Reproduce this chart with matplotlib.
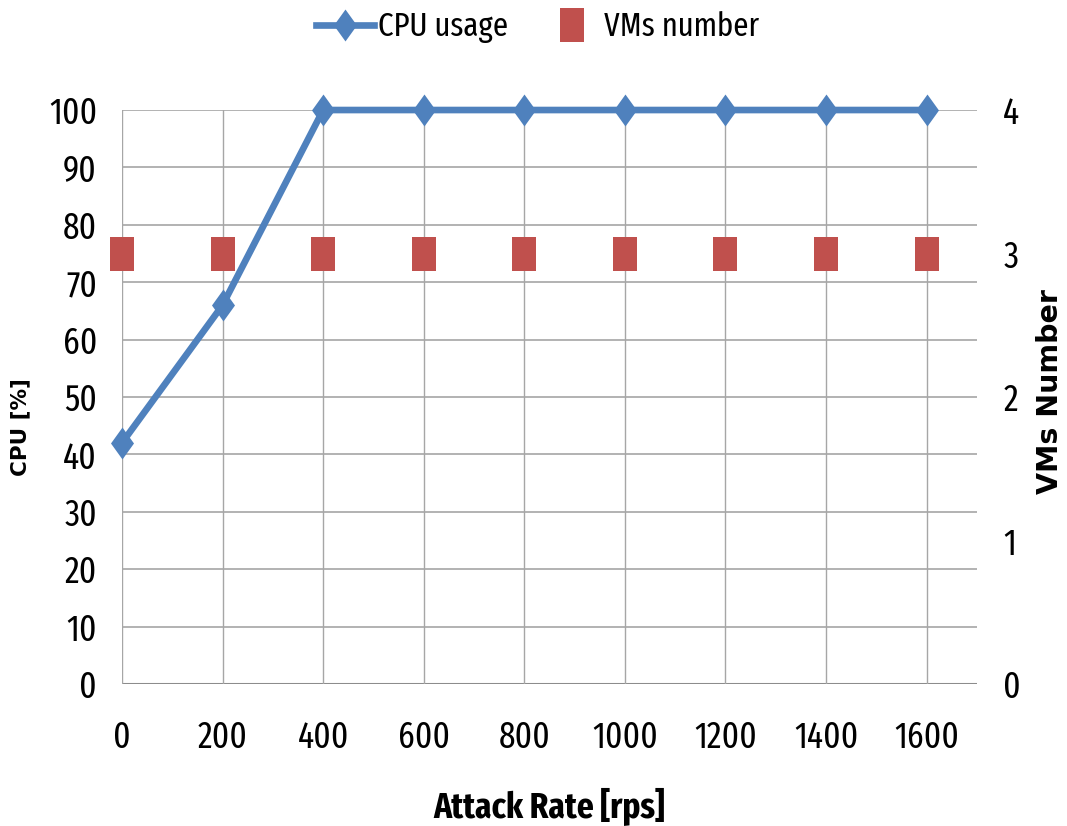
import matplotlib
matplotlib.use("Agg")
import matplotlib.pyplot as plt
from matplotlib.lines import Line2D

# data
attack_rate = [0, 200, 400, 600, 800, 1000, 1200, 1400, 1600]
cpu_usage = [42, 66, 100, 100, 100, 100, 100, 100, 100]
vms_number = [3, 3, 3, 3, 3, 3, 3, 3, 3]

narrow = ['Fira Sans Extra Condensed', 'DejaVu Sans']
blue = '#4F81BD'
red = '#C0504D'
diamond = [(0, 1), (0.72, 0), (0, -1), (-0.72, 0), (0, 1)]
rect = [(-0.7, -1), (0.7, -1), (0.7, 1), (-0.7, 1), (-0.7, -1)]

fig = plt.figure(figsize=(10.67, 8.26), dpi=100)
ax = fig.add_axes([0.1143, 0.1719, 0.8013, 0.6949])
ax2 = ax.twinx()

ax.plot(attack_rate, cpu_usage, color=blue, lw=4.8, marker=diamond,
        markersize=23, markeredgewidth=0, zorder=3, clip_on=False)
ax2.plot(attack_rate, vms_number, linestyle='none', color=red, marker=rect,
         markersize=24, markeredgewidth=0, zorder=3, clip_on=False)

ax.set_xlim(0, 1700)
ax.set_ylim(0, 100)
ax2.set_ylim(0, 4)
ax.set_xticks(attack_rate)
ax.set_yticks(range(0, 101, 10))
ax2.set_yticks(range(0, 5))

# grid: horizontal every 10, vertical at each category
for y in range(10, 101, 10):
    ax.axhline(y, color='#A6A6A6', lw=1.2, zorder=0)
ax.axhline(0, color='#8C8C8C', lw=2.2, zorder=0)
for x in attack_rate:
    ax.axvline(x, color='#A6A6A6', lw=1.0, zorder=0)

for a in (ax, ax2):
    for s in a.spines.values():
        s.set_visible(False)
    a.tick_params(length=0)

ax.tick_params(axis='y', pad=18)
ax.tick_params(axis='x', pad=26)
ax2.tick_params(axis='y', pad=19)
for lab in ax.get_xticklabels() + ax.get_yticklabels() + ax2.get_yticklabels():
    lab.set_family(narrow)
    lab.set_fontsize(26)

ax.set_xlabel('Attack Rate [rps]', family=narrow, fontsize=26, fontweight='bold')
ax.xaxis.set_label_coords(0.5, -0.18)
ax.set_ylabel('CPU [%]', fontsize=15.5, fontweight='bold')
ax.yaxis.set_label_coords(-0.107, 0.448)
ax2.set_ylabel('VMs Number', fontsize=20.5, fontweight='bold')
ax2.yaxis.set_label_coords(1.069, 0.51)

handles = [
    Line2D([], [], color=blue, lw=4.8, marker=diamond, markersize=23, markeredgewidth=0),
    Line2D([], [], linestyle='none', color=red, marker=rect, markersize=24, markeredgewidth=0),
]
fig.legend(handles, ['CPU usage', 'VMs number'], loc='center',
           bbox_to_anchor=(0.504, 0.967), ncol=2, frameon=False,
           prop={'family': narrow, 'size': 24}, handlelength=1.75,
           handletextpad=0.1, columnspacing=1.05, borderpad=0, borderaxespad=0)

fig.savefig('out.png', dpi=100)
